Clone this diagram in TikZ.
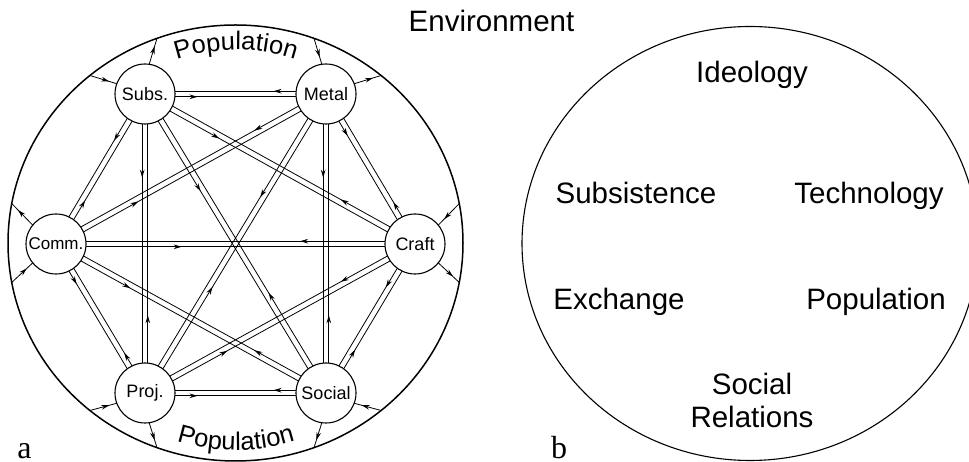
\documentclass[tikz,border=0pt]{standalone}
\usepackage{fontspec}
\setmainfont{Liberation Sans}
\newfontfamily\labelserif{Liberation Serif}
\usetikzlibrary{shapes.geometric,decorations.markings,decorations.text,arrows.meta,calc,backgrounds}
\newcommand\popfont{\fontsize{25.5pt}{25.5pt}\selectfont}
\begin{document}
\begin{tikzpicture}[x=1pt,y=1pt,
  every node/.style={inner sep=0pt, outer sep=0pt},
  unit/.style={circle, draw, line width=1.1pt, fill=white, minimum size=60pt, font=\fontsize{18}{18}\selectfont},
  envshape/.style={ellipse, draw, line width=1.5pt, minimum width=455pt, minimum height=436pt},
  flow/.style={line width=0.8pt, decoration={markings, mark=at position #1 with {\arrow{Stealth[length=8pt,width=4.6pt]}}}, postaction={decorate}},
  lab/.style={anchor=base, font=\fontsize{29.5}{31}\selectfont},
  letter/.style={anchor=base, text depth=0pt, font=\labelserif\fontsize{32}{32}\selectfont}
]
\useasboundingbox (0,0) rectangle (969,462);
\clip (0,0) rectangle (969,462);

% ---------- panel a ----------
\node[envshape] (envL) at (235.5,219) {};
\node[unit] (subs)   at (145,368) {Subs.};
\node[unit] (metal)  at (326,368) {Metal};
\node[unit, font=\fontsize{17}{18}\selectfont] (comm) at (56,218) {Comm.};
\node[unit] (craft)  at (415,218) {Craft};
\node[unit] (proj)   at (145,69)  {Proj.};
\node[unit] (social) at (326,69)  {Social};

\begin{scope}[on background layer]
\foreach \a/\b/\p in {
  subs/metal/0.29, metal/subs/0.29,
  metal/craft/0.27, craft/metal/0.27,
  craft/social/0.30, social/craft/0.30,
  social/proj/0.29, proj/social/0.29,
  proj/comm/0.26, comm/proj/0.26,
  comm/subs/0.30, subs/comm/0.32,
  subs/craft/0.28, craft/subs/0.28,
  subs/proj/0.28, proj/subs/0.26,
  metal/comm/0.26, comm/metal/0.30,
  metal/social/0.28, social/metal/0.26,
  craft/proj/0.27, proj/craft/0.30,
  social/comm/0.27, comm/social/0.28,
  subs/social/0.32, social/subs/0.33,
  metal/proj/0.35, proj/metal/0.36,
  comm/craft/0.35, craft/comm/0.32}
  \draw[flow=\p] ($(\a.center)!2.8pt!-90:(\b.center)$) -- ($(\b.center)!2.8pt!90:(\a.center)$);
\end{scope}

% environment exchanges: inward (ellipse -> node) and outward (node -> ellipse)
\foreach \n/\ea/\na in {subs/131/160, metal/69/98, craft/10/39, social/311/340, proj/229/200, comm/190/219}
  \draw[flow=0.72] (envL.\ea) -- (\n.\na);
\foreach \n/\na/\ea in {subs/82/111, metal/20/49, craft/321/350, social/262/291, proj/278/249, comm/141/170}
  \draw[flow=0.7] (\n.\na) -- (envL.\ea);

\path[decorate, decoration={text along path, text={|\popfont|Population}, text align=center}]
  (236,222) ++(112:190) arc[start angle=112, end angle=68, radius=190];
\path[decorate, decoration={text along path, text={|\popfont|Population}, text align=center}]
  (236,212) ++(250:200) arc[start angle=250, end angle=290, radius=200];

\node[lab] (envtitle) at (491.5,430) {Environment};
\node[letter] (la) at (24.5,3) {a};

% ---------- panel b ----------
\node[envshape, line width=1.1pt, minimum width=456pt, minimum height=434pt] (envR) at (750,218.5) {};
\node[lab] (ideo)  at (752,379) {Ideology};
\node[lab] (subsi) at (636,258) {Subsistence};
\node[lab] (tech)  at (869,258) {Technology};
\node[lab] (exch)  at (619,152) {Exchange};
\node[lab] (popu)  at (876,152) {Population};
\node[lab] (socr)  at (752,67)  {Social};
\node[lab] (rel)   at (752,34)  {Relations};
\node[letter] (lb) at (559,3) {b};
\end{tikzpicture}
\end{document}
